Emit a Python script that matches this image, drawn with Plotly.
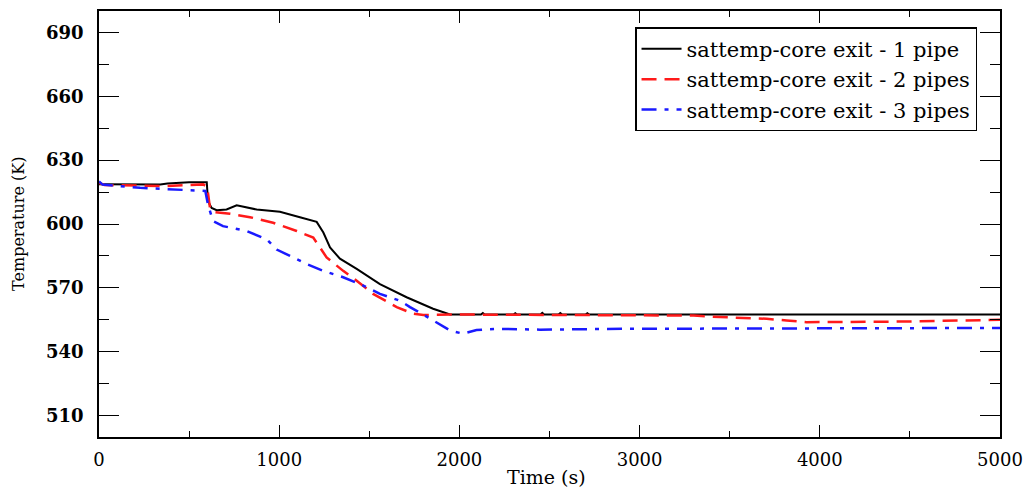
import plotly.graph_objects as go

# ---- data ----
t_1pipe = [0, 340, 380, 500, 598, 605, 625, 653, 708, 764, 875, 1004, 1115, 1208, 1245, 1282,
           1337, 1430, 1559, 1707, 1854, 1948, 2120, 2130, 2140, 2300, 2310, 2320, 2450, 2460,
           2470, 2550, 2560, 2570, 2700, 2710, 2720, 5000]
v_1pipe = [618.7, 618.6, 619.0, 619.6, 619.6, 610.7, 607.5, 606.5, 606.8, 608.8, 606.8, 605.7,
           603.2, 601.0, 596.0, 589.0, 583.7, 578.9, 571.8, 565.6, 560.2, 557.5, 557.5, 558.2,
           557.5, 557.5, 558.1, 557.5, 557.5, 558.3, 557.5, 557.5, 558.2, 557.5, 557.5, 558.1,
           557.5, 557.5]

t_2pipes = [0, 30, 375, 450, 578, 600, 616, 633, 727, 838, 966, 1097, 1189, 1226, 1263, 1355,
            1430, 1521, 1652, 1743, 1800, 2000, 3000, 3300, 3446, 3705, 3816, 3927, 4460, 5000]
v_2pipes = [619.3, 618.3, 617.8, 618.2, 618.6, 617.5, 607.6, 605.7, 604.8, 603.2, 600.6, 596.7,
            593.6, 589.0, 584.3, 578.0, 573.4, 567.2, 561.0, 557.9, 557.3, 557.5, 557.3, 557.0,
            556.3, 555.5, 554.7, 553.9, 554.2, 555.0]

t_3pipes = [0, 20, 228, 411, 560, 590, 605, 633, 688, 820, 931, 986, 1060, 1152, 1245, 1355,
            1448, 1559, 1670, 1726, 1855, 1948, 2020, 2095, 2200, 2447, 2928, 4390, 5000]
v_3pipes = [620.0, 618.5, 617.0, 616.2, 615.7, 615.5, 609.0, 601.4, 599.0, 596.7, 592.8, 588.0,
            585.0, 581.2, 578.0, 575.0, 571.8, 567.2, 564.0, 561.0, 554.7, 550.0, 548.5, 550.2,
            550.8, 550.4, 550.8, 551.1, 551.2]

names = ["sattemp-core exit - 1 pipe", "sattemp-core exit - 2 pipes", "sattemp-core exit - 3 pipes"]
x_ticks = [0, 1000, 2000, 3000, 4000, 5000]
y_ticks = [510, 540, 570, 600, 630, 660, 690]

fig = go.Figure()
fig.add_trace(go.Scatter(x=t_1pipe, y=v_1pipe, mode="lines", name=names[0],
                         line=dict(color="black", width=2)))
fig.add_trace(go.Scatter(x=t_2pipes, y=v_2pipes, mode="lines", name=names[1],
                         line=dict(color="#ff1a1a", width=2.5, dash="15px,8px")))
fig.add_trace(go.Scatter(x=t_3pipes, y=v_3pipes, mode="lines", name=names[2],
                         line=dict(color="#1a1aff", width=2.5, dash="15px,8px,4px,8px")))

axis_common = dict(showline=True, linecolor="black", linewidth=1.5, mirror="allticks",
                   ticks="inside", tickcolor="black", tickwidth=1.3, showgrid=False,
                   zeroline=False, automargin=False)

fig.update_xaxes(range=[0, 5000], tickvals=x_ticks, ticklen=12,
                 minor=dict(dtick=500, tick0=0, ticks="inside", ticklen=6, tickcolor="black",
                            tickwidth=1.3, showgrid=False),
                 tickfont=dict(family="DejaVu Serif", size=18, color="black"),
                 ticklabelstandoff=6,
                 **axis_common)
fig.update_yaxes(range=[500, 700], tickvals=y_ticks, ticklen=20,
                 minor=dict(dtick=15, tick0=510, ticks="inside", ticklen=10, tickcolor="black",
                            tickwidth=1.3, showgrid=False),
                 tickfont=dict(family="DejaVu Serif", size=18, color="black", weight="bold"),
                 ticklabelstandoff=10,
                 **axis_common)

fig.add_annotation(text="Temperature (K)", xref="paper", yref="paper", x=-0.09, y=0.5,
                   xanchor="center", yanchor="middle",
                   textangle=-90, showarrow=False,
                   font=dict(family="DejaVu Serif", size=16, color="black"))
fig.add_annotation(text="Time (s)", xref="paper", yref="paper", x=0.497, y=-0.095,
                   xanchor="center", yanchor="middle", showarrow=False,
                   font=dict(family="DejaVu Serif", size=19, color="black"))

fig.update_layout(
    width=1033, height=490,
    margin=dict(l=99, r=33, t=11, b=53),
    paper_bgcolor="white", plot_bgcolor="white",
    legend=dict(x=0.9745, y=0.962, xanchor="right", yanchor="top",
                bgcolor="white", bordercolor="black", borderwidth=1.5,
                font=dict(family="DejaVu Serif", size=21, color="black"),
                itemwidth=40, tracegroupgap=0),
)

fig.write_html("out.html")
